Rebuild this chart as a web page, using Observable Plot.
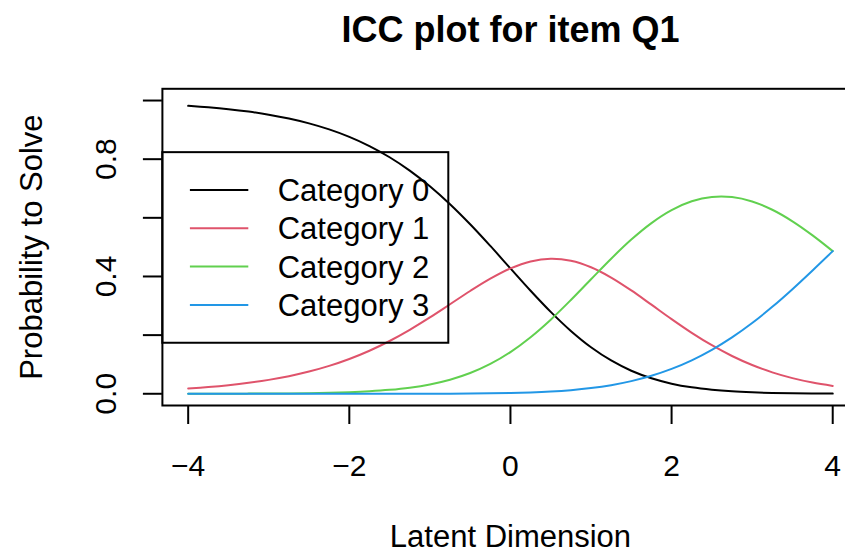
<!DOCTYPE html>
<html>
<head>
<meta charset="utf-8">
<script src="https://cdn.jsdelivr.net/npm/d3@7"></script>
<script src="https://cdn.jsdelivr.net/npm/@observablehq/plot@0.6"></script>
<style>
  html, body { margin: 0; padding: 0; background: #fff; overflow: hidden; }
  #chart { width: 845px; height: 553px; overflow: hidden; position: relative; }
</style>
</head>
<body>
<div id="chart"></div>
<script>
// Latent trait grid and category response probabilities for item Q1
const theta = [-4, -3.75, -3.5, -3.25, -3, -2.75, -2.5, -2.25, -2, -1.75, -1.5, -1.25, -1, -0.75, -0.5, -0.25,
  0, 0.25, 0.5, 0.75, 1, 1.25, 1.5, 1.75, 2, 2.25, 2.5, 2.75, 3, 3.25, 3.5, 3.75, 4];

const category0 = [0.9819, 0.9768, 0.9704, 0.9622, 0.9518, 0.9387, 0.9222, 0.9016, 0.8761, 0.8447, 0.8066,
  0.7611, 0.7076, 0.6463, 0.5779, 0.5041, 0.4275, 0.3514, 0.2793, 0.2143, 0.1587, 0.1136, 0.0786, 0.0528,
  0.0345, 0.0219, 0.0136, 0.0082, 0.0049, 0.0028, 0.0016, 0.0009, 0.0005];

const category1 = [0.0180, 0.0230, 0.0293, 0.0373, 0.0474, 0.0600, 0.0757, 0.0950, 0.1186, 0.1468, 0.1800,
  0.2180, 0.2603, 0.3053, 0.3505, 0.3926, 0.4275, 0.4512, 0.4604, 0.4536, 0.4315, 0.3964, 0.3524, 0.3038,
  0.2546, 0.2078, 0.1655, 0.1288, 0.0981, 0.0731, 0.0534, 0.0382, 0.0268];

const category2 = [0.0001, 0.0002, 0.0003, 0.0005, 0.0008, 0.0013, 0.0021, 0.0033, 0.0053, 0.0085, 0.0134,
  0.0208, 0.0319, 0.0480, 0.0708, 0.1018, 0.1423, 0.1929, 0.2527, 0.3197, 0.3904, 0.4606, 0.5258, 0.5820,
  0.6262, 0.6563, 0.6712, 0.6708, 0.6558, 0.6276, 0.5882, 0.5402, 0.4864];

const category3 = [0, 0, 0, 0, 0, 0, 0, 0, 0, 0, 0.0001,
  0.0001, 0.0002, 0.0004, 0.0008, 0.0015, 0.0026, 0.0045, 0.0076, 0.0124, 0.0194, 0.0294, 0.0432, 0.0613,
  0.0847, 0.1140, 0.1498, 0.1922, 0.2412, 0.2965, 0.3568, 0.4207, 0.4864];

const categoryNames = ["Category 0", "Category 1", "Category 2", "Category 3"];
const categoryColors = ["#000000", "#DF536B", "#61D04F", "#2297E6"];

const xTicks = [-4, -2, 0, 2, 4];
const yTicks = [0, 0.2, 0.4, 0.6, 0.8, 1];
const yTickLabels = [0, 0.4, 0.8];

// Long-format table for the line mark
const series = [category0, category1, category2, category3];
const rows = [];
series.forEach((values, k) => {
  values.forEach((p, i) => rows.push({theta: theta[i], p, category: categoryNames[k]}));
});

const font = '"Liberation Sans", Arial, Helvetica, sans-serif';

// Boxed legend anchored at the left edge of the plotting frame, vertically centred
function legend(index, scales, values, dims) {
  const {marginLeft, marginTop, marginBottom, height} = dims;
  const cy = (marginTop + height - marginBottom) / 2 + 0.8;
  const boxW = 286, boxH = 190.6, rowH = 38.33;
  const g = d3.create("svg:g")
    .attr("font-family", font).attr("font-size", 31)
    .attr("text-anchor", "start");
  g.append("rect")
    .attr("x", marginLeft + 0.4).attr("y", cy - boxH / 2)
    .attr("width", boxW).attr("height", boxH)
    .attr("fill", "none").attr("stroke", "#000").attr("stroke-width", 2);
  categoryNames.forEach((name, i) => {
    const y = cy + (i - 1.5) * rowH;
    g.append("line")
      .attr("x1", marginLeft + 28).attr("x2", marginLeft + 86.4)
      .attr("y1", y).attr("y2", y)
      .attr("stroke", categoryColors[i]).attr("stroke-width", 2);
    g.append("text")
      .attr("x", marginLeft + 115.8).attr("y", y + 11)
      .attr("fill", "#000")
      .text(name);
  });
  return g.node();
}

const chart = Plot.plot({
  width: 858,
  height: 553,
  marginLeft: 161.9,
  marginRight: 0,
  marginTop: 88.3,
  marginBottom: 148,
  style: {fontFamily: font, fontSize: "30px", background: "#fff", color: "#000", maxWidth: "none", overflow: "hidden"},
  x: {domain: [-4.32, 4.32]},
  y: {domain: [-0.04, 1.04]},
  color: {domain: categoryNames, range: categoryColors},
  marks: [
    Plot.frame({stroke: "#000", strokeWidth: 2}),
    Plot.axisX({ticks: xTicks, tickSize: 19, tickPadding: 30, strokeWidth: 2, label: null, fontSize: 30}),
    Plot.axisY({ticks: yTicks, tickSize: 19, tickFormat: () => "", strokeWidth: 2, label: null}),
    Plot.text(yTickLabels, {
      y: (d) => d, text: (d) => d.toFixed(1), frameAnchor: "left", textAnchor: "middle",
      dx: -56.5, rotate: -90, lineAnchor: "middle", fontSize: 30, fill: "#000"
    }),
    Plot.line(rows, {x: "theta", y: "p", stroke: "category", strokeWidth: 2, curve: "catmull-rom"}),
    Plot.text(["ICC plot for item Q1"], {
      text: (d) => d, frameAnchor: "top", textAnchor: "middle", dy: -47.3, lineAnchor: "bottom",
      fontSize: 36, fontWeight: "bold", fill: "#000"
    }),
    Plot.text(["Latent Dimension"], {
      text: (d) => d, frameAnchor: "bottom", textAnchor: "middle", dy: 141.5, lineAnchor: "bottom",
      fontSize: 31, fill: "#000"
    }),
    Plot.text(["Probability to Solve"], {
      text: (d) => d, frameAnchor: "left", textAnchor: "middle", dx: -130, rotate: -90,
      lineAnchor: "middle", fontSize: 31, fill: "#000"
    }),
    legend
  ]
});

document.getElementById("chart").append(chart);
</script>
</body>
</html>
